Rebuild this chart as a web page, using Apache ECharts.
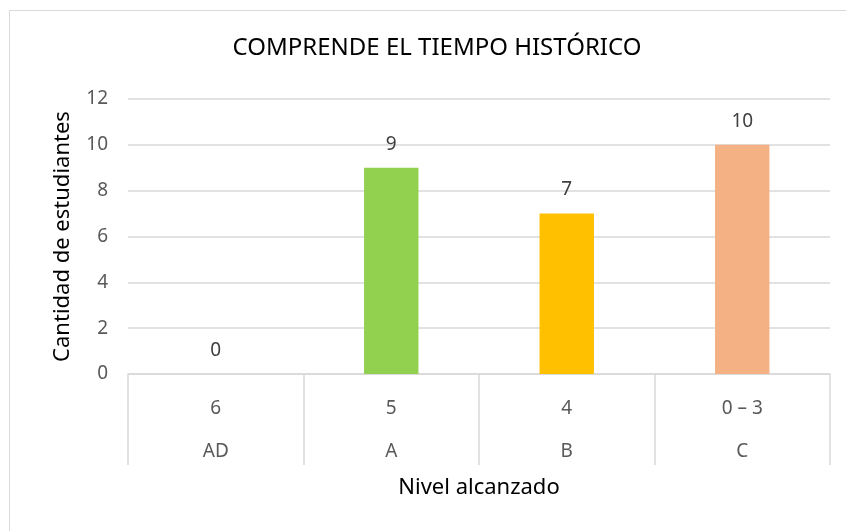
<!DOCTYPE html>
<html>
<head>
<meta charset="utf-8">
<script src="https://cdn.jsdelivr.net/npm/echarts@6/dist/echarts.min.js"></script>
<style>
  html, body { margin: 0; padding: 0; background: #fff; }
  #chart { width: 846px; height: 531px; }
</style>
</head>
<body>
<div id="chart"></div>
<script>
const scores = ["6", "5", "4", "0 – 3"];
const levels = ["AD", "A", "B", "C"];
const students = [0, 9, 7, 10];
const barColors = ["#5B9BD5", "#92D050", "#FFC000", "#F4B183"];
const yTicks = [0, 2, 4, 6, 8, 10, 12];

const font = "Noto Sans";
const chart = echarts.init(document.getElementById("chart"), null, { renderer: "canvas" });

chart.setOption({
  animation: false,
  backgroundColor: "#fff",
  graphic: [{
    type: "rect",
    shape: { x: 9.5, y: 10.5, width: 850, height: 540 },
    style: { fill: "none", stroke: "#d9d9d9", lineWidth: 1 },
    silent: true
  }],
  title: {
    text: "COMPRENDE EL TIEMPO HISTÓRICO",
    left: 432,
    top: 31,
    textAlign: "center",
    textStyle: { fontFamily: font, fontSize: 24, fontWeight: "normal", color: "#000" }
  },
  grid: { left: 128, right: 16, top: 99, bottom: 157 },
  xAxis: {
    type: "category",
    data: scores,
    name: "Nivel alcanzado",
    nameLocation: "middle",
    nameGap: 103,
    nameTextStyle: { fontFamily: font, fontSize: 22, color: "#000" },
    axisLine: { lineStyle: { color: "#d9d9d9", width: 1.5 } },
    axisTick: { show: true, length: 91, lineStyle: { color: "#d9d9d9", width: 1.5 } },
    axisLabel: {
      margin: 13,
      formatter: (value, index) => `{a|${value}}\n{b|${levels[index]}}`,
      rich: {
        a: { fontFamily: font, fontSize: 19, color: "#595959", lineHeight: 43 },
        b: { fontFamily: font, fontSize: 19, color: "#595959", lineHeight: 43 }
      }
    }
  },
  yAxis: {
    type: "value",
    min: yTicks[0],
    max: yTicks[yTicks.length - 1],
    interval: 2,
    name: "Cantidad de estudiantes",
    nameLocation: "middle",
    nameGap: 54,
    nameTextStyle: { fontFamily: font, fontSize: 22, color: "#000" },
    axisLine: { show: false },
    axisTick: { show: false },
    axisLabel: { margin: 20, fontFamily: font, fontSize: 19, color: "#595959" },
    splitLine: { lineStyle: { color: "#d9d9d9", width: 1.5 } }
  },
  series: [{
    type: "bar",
    barWidth: "31%",
    data: students.map((v, i) => ({ value: v, itemStyle: { color: barColors[i] } })),
    label: {
      show: true,
      position: "top",
      distance: 14,
      fontFamily: font,
      fontSize: 19,
      color: "#404040"
    }
  }]
});
</script>
</body>
</html>
